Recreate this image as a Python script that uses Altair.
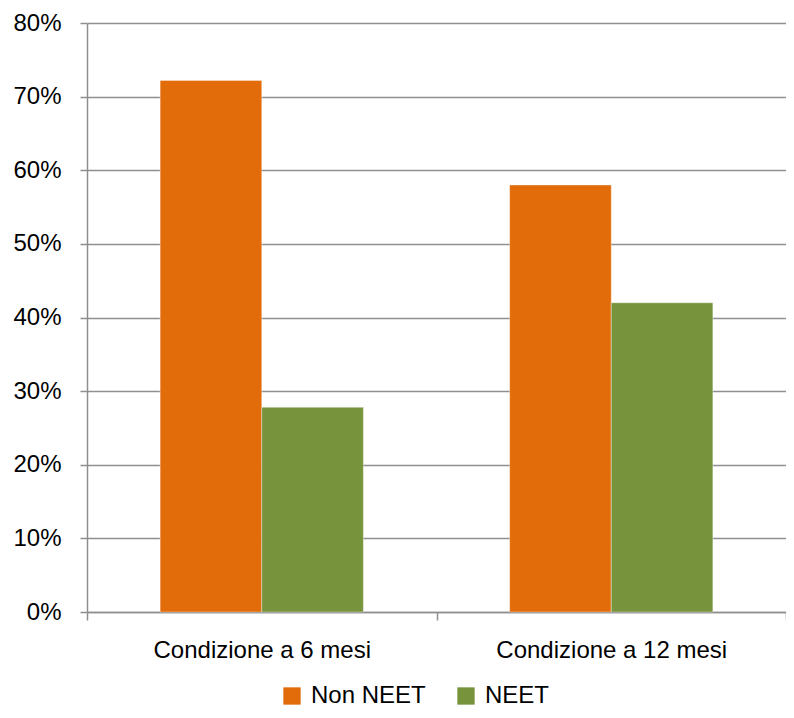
import altair as alt
import pandas as pd

categories = ["Condizione  a 6 mesi", "Condizione  a 12 mesi"]
series = ["Non NEET", "NEET"]
non_neet = [0.722, 0.580]
neet = [0.278, 0.420]
colors = ["#E36C0A", "#77933C"]
y_ticks = [0, 0.1, 0.2, 0.3, 0.4, 0.5, 0.6, 0.7, 0.8]

rows = []
for i, c in enumerate(categories):
    rows.append({"cat": c, "serie": series[0], "val": non_neet[i]})
    rows.append({"cat": c, "serie": series[1], "val": neet[i]})
df = pd.DataFrame(rows)

FONT = "Liberation Sans, Arial"
GRID = "#8f8f8f"
FS = 24

chart = alt.Chart(df).mark_bar(stroke="#ffffff", strokeWidth=0.6, strokeOpacity=0.6).encode(
    x=alt.X("cat:N", sort=categories, title=None,
            scale=alt.Scale(paddingInner=0, paddingOuter=0),
            axis=alt.Axis(labelAngle=0, labelFontSize=FS, labelFont=FONT, labelColor="#000000",
                          labelPadding=18, labelLimit=400, tickBand="extent", tickSize=8,
                          tickColor=GRID, tickWidth=1.5, domainColor=GRID, domainWidth=1.5,
                          grid=False)),
    xOffset=alt.XOffset("serie:N", sort=series,
                        scale=alt.Scale(paddingInner=0, paddingOuter=0.72)),
    y=alt.Y("val:Q", title=None, scale=alt.Scale(domain=[0, 0.8], nice=False),
            axis=alt.Axis(values=y_ticks, format=".0%", labelFontSize=FS, labelFont=FONT,
                          labelColor="#000000", labelPadding=19, tickSize=7, tickColor=GRID,
                          tickWidth=1.5, domainColor=GRID, domainWidth=1.5,
                          gridColor=GRID, gridWidth=1.5)),
    color=alt.Color("serie:N", sort=series, title=None,
                    scale=alt.Scale(domain=series, range=colors),
                    legend=alt.Legend(orient="none", legendX=193, legendY=661, direction="horizontal",
                                      symbolType="square", symbolSize=300, symbolStrokeWidth=0,
                                      labelFontSize=FS, labelFont=FONT, labelColor="#000000",
                                      labelOffset=7, columnPadding=28, labelLimit=300)),
).properties(
    width=699, height=589,
    padding={"left": 79, "top": 15, "right": 0, "bottom": 98},
    autosize=alt.AutoSizeParams(type="none"),
).configure_view(stroke=None)

chart.save("out.html", embed_options={"renderer": "svg", "actions": False})
